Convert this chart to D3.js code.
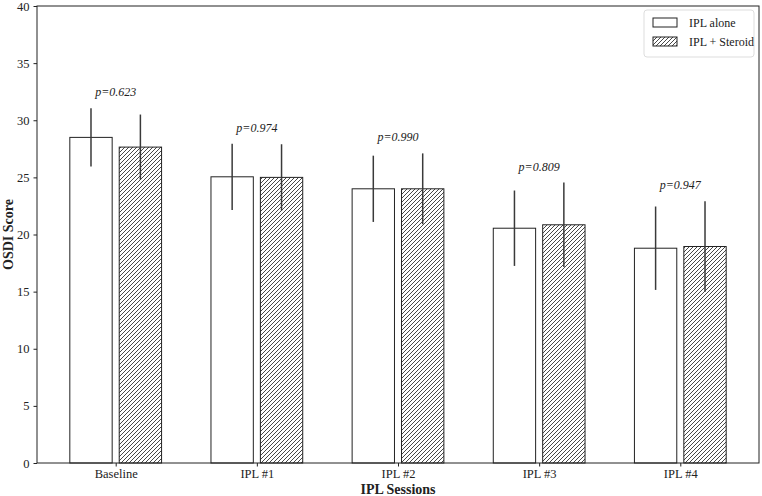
<!DOCTYPE html>
<html>
<head>
<meta charset="utf-8">
<script src="https://d3js.org/d3.v7.min.js"></script>
<style>
  body { margin: 0; background: #fff; }
  text { font-family: "Liberation Serif", "Times New Roman", serif; }
</style>
</head>
<body>
<div id="chart"></div>
<script>
// data
var sessions = ["Baseline", "IPL #1", "IPL #2", "IPL #3", "IPL #4"]
var aloneMean = [28.5, 25.05, 24.0, 20.55, 18.8]
var aloneSd = [2.55, 2.9, 2.9, 3.3, 3.65]
var steroidMean = [27.65, 25.0, 24.0, 20.85, 18.95]
var steroidSd = [2.85, 2.9, 3.1, 3.7, 3.95]
var pValues = ["p=0.623", "p=0.974", "p=0.990", "p=0.809", "p=0.947"]
var yTicks = [0, 5, 10, 15, 20, 25, 30, 35, 40]

var width = 762, height = 496
var margin = {top: 6, right: 3, bottom: 33, left: 37}

var svg = d3.select("#chart").append("svg")
    .attr("width", width)
    .attr("height", height)

var defs = svg.append("defs")
defs.append("pattern")
    .attr("id", "hatch")
    .attr("patternUnits", "userSpaceOnUse")
    .attr("width", 4).attr("height", 4)
  .append("path")
    .attr("d", "M-1,1 l2,-2 M0,4 l4,-4 M3,5 l2,-2")
    .attr("stroke", "#333")
    .attr("stroke-width", 0.9)

// bars are 0.3 wide, offset +/-0.175 from the tick; xlim padded like matplotlib
var x = d3.scaleLinear()
    .domain([-0.5575, 4.5575])
    .range([margin.left, width - margin.right])
var y = d3.scaleLinear()
    .domain([0, 40])
    .range([height - margin.bottom, margin.top])

var barW = 0.3, off = 0.175

var series = [
  {mean: aloneMean, sd: aloneSd, fill: "#fff", dx: -off},
  {mean: steroidMean, sd: steroidSd, fill: "url(#hatch)", dx: off}
]

series.forEach(function(s) {
  var g = svg.append("g")
  g.selectAll("rect")
    .data(s.mean)
    .enter().append("rect")
      .attr("x", function(d, i) { return x(i + s.dx - barW / 2) })
      .attr("width", x(barW) - x(0))
      .attr("y", function(d) { return y(d) })
      .attr("height", function(d) { return y(0) - y(d) })
      .attr("fill", s.fill)
      .attr("stroke", "#222")
      .attr("stroke-width", 1)
  g.selectAll("line")
    .data(s.mean)
    .enter().append("line")
      .attr("x1", function(d, i) { return x(i + s.dx) })
      .attr("x2", function(d, i) { return x(i + s.dx) })
      .attr("y1", function(d, i) { return y(d - s.sd[i]) })
      .attr("y2", function(d, i) { return y(d + s.sd[i]) })
      .attr("stroke", "#3a3a3a")
      .attr("stroke-width", 1.5)
})

// p-value labels above the taller error bar
svg.append("g").selectAll("text")
  .data(pValues)
  .enter().append("text")
    .attr("x", function(d, i) { return x(i) })
    .attr("y", function(d, i) {
      var top = Math.max(aloneMean[i] + aloneSd[i], steroidMean[i] + steroidSd[i])
      return y(top + 1.05)
    })
    .attr("text-anchor", "middle")
    .attr("font-size", 12)
    .attr("font-style", "italic")
    .attr("fill", "#222")
    .text(function(d) { return d })

// axes
var xAxis = d3.axisBottom(x)
    .tickValues(d3.range(sessions.length))
    .tickFormat(function(d) { return sessions[d] })
    .tickSize(3.5).tickPadding(3)
var yAxis = d3.axisLeft(y)
    .tickValues(yTicks)
    .tickSize(3.5).tickPadding(4)

var gx = svg.append("g")
    .attr("transform", "translate(0," + y(0) + ")")
    .call(xAxis)
var gy = svg.append("g")
    .attr("transform", "translate(" + margin.left + ",0)")
    .call(yAxis)
;[gx, gy].forEach(function(g) {
  g.select(".domain").remove()
  g.selectAll("text")
    .attr("font-size", 12.5)
    .attr("fill", "#222")
  g.selectAll("line").attr("stroke", "#222")
})

// frame
svg.append("rect")
    .attr("x", margin.left).attr("y", margin.top)
    .attr("width", width - margin.left - margin.right)
    .attr("height", height - margin.top - margin.bottom)
    .attr("fill", "none")
    .attr("stroke", "#222")
    .attr("stroke-width", 1)

svg.append("text")
    .attr("x", (margin.left + width - margin.right) / 2)
    .attr("y", height - 2)
    .attr("text-anchor", "middle")
    .attr("font-size", 14)
    .attr("font-weight", "bold")
    .attr("fill", "#222")
    .text("IPL Sessions")

svg.append("text")
    .attr("transform", "translate(13," + (margin.top + (height - margin.top - margin.bottom) / 2) + ") rotate(-90)")
    .attr("text-anchor", "middle")
    .attr("font-size", 14)
    .attr("font-weight", "bold")
    .attr("fill", "#222")
    .text("OSDI Score")

// legend
var legendNames = ["IPL alone", "IPL + Steroid"]
var leg = svg.append("g").attr("transform", "translate(644,10)")
leg.append("rect")
    .attr("width", 110).attr("height", 47)
    .attr("rx", 3)
    .attr("fill", "#fff")
    .attr("stroke", "#ddd")
legendNames.forEach(function(name, i) {
  leg.append("rect")
      .attr("x", 9).attr("y", 8 + i * 19)
      .attr("width", 24).attr("height", 9)
      .attr("fill", series[i].fill)
      .attr("stroke", "#222")
  leg.append("text")
      .attr("x", 45).attr("y", 17 + i * 19)
      .attr("font-size", 12)
      .attr("fill", "#222")
      .text(name)
})
</script>
</body>
</html>
